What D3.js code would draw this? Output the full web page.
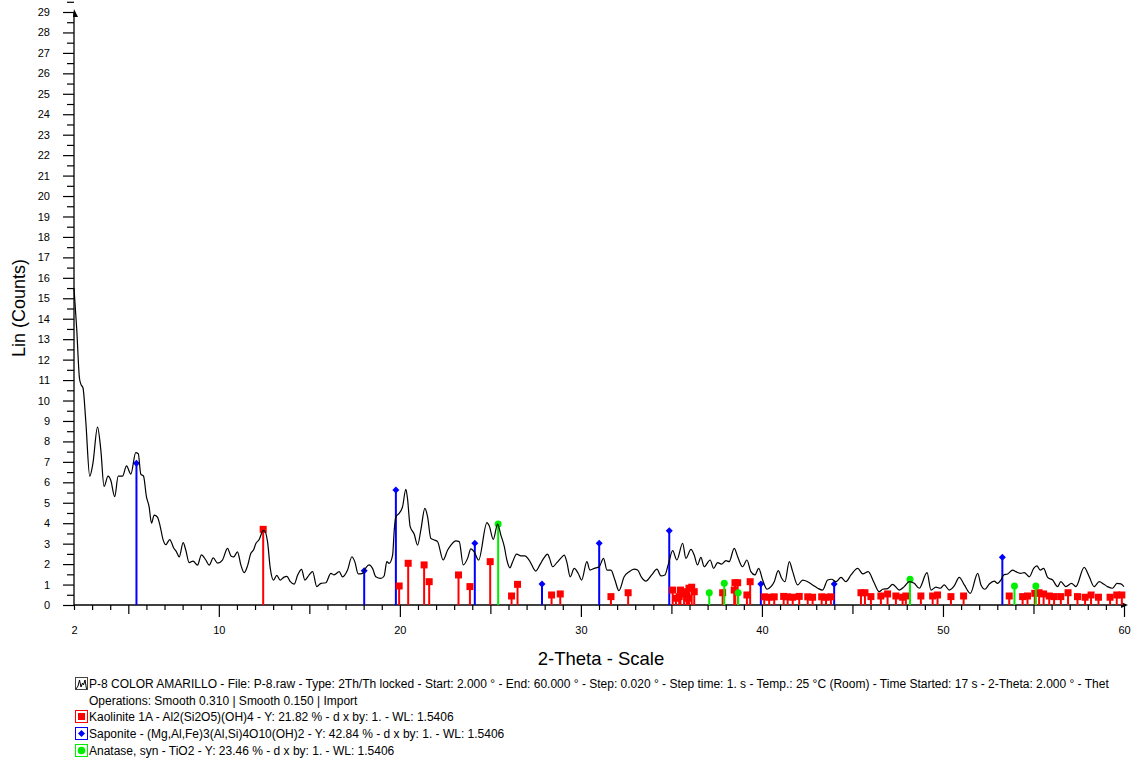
<!DOCTYPE html>
<html>
<head>
<meta charset="utf-8">
<script src="https://cdn.jsdelivr.net/npm/d3@7"></script>
<style>
  body { margin: 0; background: #fff; }
  text { font-family: "Liberation Sans", Arial, sans-serif; fill: #000; }
</style>
</head>
<body>
<script>
var twoTheta = [2.0, 2.15, 2.3, 2.38, 2.5, 2.65, 2.87, 3.04, 3.3, 3.48, 3.66, 3.88, 4.03, 4.25, 4.44, 4.68, 4.9, 5.14, 5.41, 5.55,
  5.69, 5.84, 6.0, 6.15, 6.28, 6.43, 6.61, 6.76, 6.92, 7.07, 7.29, 7.5, 7.66, 7.81, 8.03, 8.17, 8.36, 8.58, 8.82, 9.04,
  9.28, 9.47, 9.69, 9.93, 10.2, 10.48, 10.67, 10.82, 11.03, 11.22, 11.4, 11.58, 11.77, 11.92, 12.04, 12.23, 12.41, 12.5, 12.69, 12.84,
  13.02, 13.2, 13.39, 13.58, 13.76, 13.95, 14.16, 14.35, 14.57, 14.75, 14.99, 15.18, 15.41, 15.64, 15.91, 16.19, 16.37, 16.65, 16.83, 17.11,
  17.35, 17.51, 17.7, 17.94, 18.12, 18.3, 18.49, 18.67, 18.95, 19.13, 19.28, 19.41, 19.6, 19.69, 19.78, 19.96, 20.15, 20.33, 20.42, 20.57,
  20.79, 20.98, 21.16, 21.38, 21.53, 21.71, 21.9, 22.08, 22.39, 22.64, 22.82, 23.09, 23.28, 23.5, 23.74, 23.92, 24.11, 24.35, 24.81, 24.94,
  25.16, 25.4, 25.58, 25.77, 25.91, 26.08, 26.23, 26.45, 26.69, 26.91, 27.14, 27.51, 27.73, 27.94, 28.16, 28.27, 28.44, 28.67, 28.93, 29.08,
  29.23, 29.41, 29.63, 29.85, 30.04, 30.33, 30.5, 30.74, 31.01, 31.25, 31.44, 31.66, 31.88, 32.1, 32.39, 32.67, 32.94, 33.13, 33.35, 33.59,
  33.91, 34.2, 34.42, 34.64, 34.82, 35.07, 35.3, 35.62, 35.8, 36.08, 36.26, 36.44, 36.63, 36.81, 37.14, 37.33, 37.55, 37.77, 38.01, 38.19,
  38.47, 38.66, 38.93, 39.17, 39.39, 39.61, 39.82, 40.04, 40.28, 40.5, 40.68, 40.9, 41.09, 41.27, 41.51, 41.7, 41.97, 42.25, 42.52, 42.8,
  43.08, 43.35, 43.63, 43.85, 44.09, 44.37, 44.64, 44.92, 45.29, 45.57, 45.87, 46.17, 46.48, 46.67, 46.94, 47.22, 47.59, 47.86, 48.14, 48.41,
  48.69, 49.12, 49.34, 49.61, 49.85, 50.07, 50.35, 50.62, 50.9, 51.18, 51.51, 51.92, 52.1, 52.32, 52.56, 52.83, 53.02, 53.2, 53.35, 53.57,
  53.85, 54.03, 54.27, 54.49, 54.77, 55.01, 55.19, 55.37, 55.56, 55.78, 56.06, 56.33, 56.51, 56.79, 57.1, 57.34, 57.8, 58.08, 58.35, 58.63,
  58.87, 59.09, 59.37, 59.61, 59.83, 60.0];
var counts = [15.5, 13.5, 11.1, 10.8, 10.6, 9.0, 6.3, 6.9, 8.7, 7.6, 5.8, 6.3, 6.1, 5.3, 6.3, 6.3, 6.8, 6.4, 7.45, 7.4,
  6.4, 6.3, 5.3, 4.8, 4.0, 4.4, 4.3, 3.85, 3.2, 2.95, 3.2, 2.8, 2.6, 2.35, 3.05, 2.7, 2.07, 2.15, 1.95, 2.45,
  2.2, 1.95, 2.3, 2.05, 2.2, 2.77, 2.4, 2.35, 2.6, 1.95, 1.58, 1.9, 2.53, 2.7, 3.0, 3.2, 3.6, 3.65, 3.1, 1.8,
  1.22, 1.45, 1.22, 1.35, 1.4, 1.14, 1.02, 1.45, 1.74, 1.22, 1.47, 1.63, 0.9, 1.06, 1.09, 1.55, 1.47, 1.63, 1.38, 1.71,
  2.36, 2.12, 1.52, 1.55, 1.82, 1.96, 1.79, 1.38, 1.3, 1.42, 2.12, 2.04, 2.44, 3.67, 4.32, 4.48, 4.81, 5.66, 5.22, 3.83,
  3.47, 2.93, 3.67, 4.73, 4.32, 3.26, 3.18, 3.1, 2.2, 2.69, 2.93, 3.14, 3.1, 1.96, 2.28, 2.74, 2.6, 2.2, 4.03, 3.86,
  3.21, 3.96, 3.42, 2.85, 2.2, 1.82, 2.12, 2.49, 2.4, 2.4, 2.2, 1.66, 1.96, 2.28, 2.49, 2.28, 1.87, 2.07, 2.33, 2.44,
  2.07, 1.38, 1.79, 1.55, 1.22, 2.12, 1.71, 1.79, 1.87, 2.28, 1.71, 1.71, 1.22, 0.7, 1.38, 1.63, 1.75, 1.71, 1.35, 1.17,
  1.47, 1.75, 1.42, 1.47, 1.96, 2.66, 2.2, 3.02, 2.28, 2.72, 2.44, 1.96, 2.33, 1.87, 2.2, 1.79, 2.07, 2.0, 2.17, 2.12,
  2.77, 2.36, 1.87, 2.2, 1.63, 1.47, 1.79, 1.22, 0.77, 0.9, 1.14, 1.68, 1.31, 1.14, 2.12, 1.63, 0.98, 1.22, 1.14, 0.98,
  0.82, 0.73, 1.22, 1.26, 1.14, 1.35, 1.14, 1.47, 1.79, 1.52, 1.63, 1.14, 0.65, 0.77, 0.8, 1.01, 0.73, 0.9, 1.14, 1.06,
  0.82, 1.58, 0.73, 0.87, 0.82, 0.98, 0.73, 0.93, 1.35, 0.98, 0.57, 1.55, 0.98, 0.77, 1.03, 1.17, 1.06, 1.22, 1.47, 1.52,
  1.71, 1.63, 1.55, 1.58, 1.38, 1.79, 1.91, 1.71, 1.79, 1.35, 1.22, 0.9, 1.14, 0.9, 1.06, 0.9, 1.84, 1.38, 0.9, 1.14,
  1.03, 0.9, 0.82, 1.06, 1.03, 0.9];

// reference stick patterns
var kaoliniteAngles = [12.45, 19.96, 20.46, 21.34, 21.62, 23.24, 23.87, 24.99, 26.17, 26.5, 28.38, 28.86, 31.66, 32.61,
  35.07, 35.25, 35.43, 35.5, 35.7, 35.84, 35.9, 35.97, 36.12, 36.26, 37.83, 38.47, 38.51, 38.66, 39.17, 39.35,
  40.13, 40.4, 40.68, 41.2, 41.42, 41.7, 42.06, 42.53, 42.8, 43.3, 43.54, 43.81, 45.47, 45.69, 46.02, 46.57, 46.94,
  47.4, 47.77, 47.95, 48.78, 49.43, 49.7, 50.44, 51.14, 53.66, 54.4, 54.67, 55.07, 55.31, 55.56, 55.87, 56.14,
  56.51, 56.91, 57.43, 57.85, 58.18, 58.59, 59.23, 59.6, 59.88];
var kaoliniteHeights = [3.7, 0.93, 2.04, 1.96, 1.14, 1.47, 0.9, 2.12, 0.44, 1.01, 0.49, 0.54, 0.41, 0.6,
  0.73, 0.33, 0.41, 0.73, 0.54, 0.65, 0.33, 0.82, 0.87, 0.65, 0.6, 0.73, 1.09, 1.09, 0.49, 1.14,
  0.4, 0.38, 0.4, 0.42, 0.4, 0.38, 0.42, 0.4, 0.38, 0.4, 0.38, 0.4, 0.6, 0.6, 0.41, 0.44, 0.54,
  0.44, 0.38, 0.44, 0.44, 0.44, 0.49, 0.41, 0.44, 0.44, 0.41, 0.44, 0.57, 0.6, 0.54, 0.44, 0.41,
  0.41, 0.6, 0.41, 0.38, 0.49, 0.38, 0.38, 0.49, 0.49];
var saponiteAngles = [5.45, 18.03, 19.78, 24.14, 27.85, 31.01, 34.88, 39.94, 43.99, 53.28];
var saponiteHeights = [6.93, 1.68, 5.62, 3.02, 1.03, 3.02, 3.63, 1.03, 1.03, 2.33];
var anataseAngles = [25.43, 37.09, 37.92, 38.69, 48.18, 53.95, 55.13];
var anataseHeights = [3.96, 0.6, 1.06, 0.6, 1.26, 0.93, 0.93];

var xLabelTicks = [2, 10, 20, 30, 40, 50, 60];
var yLabelTicks = d3.range(0, 30);

var legendLines = [
  "P-8 COLOR AMARILLO - File: P-8.raw - Type: 2Th/Th locked - Start: 2.000 \u00b0 - End: 60.000 \u00b0 - Step: 0.020 \u00b0 - Step time: 1. s - Temp.: 25 \u00b0C (Room) - Time Started: 17 s - 2-Theta: 2.000 \u00b0 - Thet",
  "Operations: Smooth 0.310 | Smooth 0.150 | Import",
  "Kaolinite 1A - Al2(Si2O5)(OH)4 - Y: 21.82 % - d x by: 1. - WL: 1.5406",
  "Saponite - (Mg,Al,Fe)3(Al,Si)4O10(OH)2 - Y: 42.84 % - d x by: 1. - WL: 1.5406",
  "Anatase, syn - TiO2 - Y: 23.46 % - d x by: 1. - WL: 1.5406"];

var red = "#ff0000", blue = "#0000ff", green = "#00ee00";

var svg = d3.select("body").append("svg")
            .attr("width", 1136)
            .attr("height", 762);

var x = d3.scaleLinear().domain([2, 60]).range([74, 1124]);
var y = d3.scaleLinear().domain([0, 29]).range([605, 12]);

// Y axis (labels + half-unit minor ticks)
var yAxis = svg.append("g")
               .attr("transform", "translate(" + x(2) + ",0)")
               .call(d3.axisLeft(y).tickValues(yLabelTicks).tickSize(11).tickPadding(13).tickFormat(d3.format("d")));
svg.append("g")
   .attr("transform", "translate(" + x(2) + ",0)")
   .call(d3.axisLeft(y).tickValues(yLabelTicks.map(d => d + 0.5)).tickSize(7).tickFormat(""))
   .select(".domain").remove();
yAxis.select(".domain").attr("d", "M0," + y(0) + "V" + y(29)).attr("stroke-width", 1.3);
svg.selectAll(".tick text").attr("font-size", 11).attr("font-family", "Liberation Sans, Arial, sans-serif");
svg.selectAll(".tick line").attr("stroke", "#000").attr("stroke-width", 1.2);

// X axis: tick every degree, longer at 5 and 10
var xAxis = svg.append("g")
               .attr("transform", "translate(0," + y(0) + ")")
               .call(d3.axisBottom(x).tickValues(d3.range(2, 61)).tickSize(5)
                       .tickFormat(d => xLabelTicks.indexOf(d) >= 0 ? d : ""));
xAxis.selectAll(".tick line")
     .attr("stroke", "#000").attr("stroke-width", 1.2)
     .attr("y2", d => d % 10 == 0 ? 12 : (d % 5 == 0 ? 9 : 5));
xAxis.selectAll(".tick text").attr("y", 21).attr("font-size", 11);
xAxis.select(".domain").attr("d", "M" + x(2) + ",0H" + x(60)).attr("stroke-width", 1.3);

// arrow heads
svg.append("path").attr("d", "M" + x(2) + "," + (y(29) - 3) + "L" + (x(2) + 4) + "," + (y(29) + 5) + "L" + (x(2) - 1) + "," + (y(29) + 5) + "Z");
svg.append("path").attr("d", "M" + (x(60) + 4) + "," + y(0) + "L" + (x(60) - 3) + "," + (y(0) - 3) + "L" + (x(60) - 3) + "," + (y(0) + 3) + "Z");

// axis titles
svg.append("text")
   .attr("transform", "translate(25,308)rotate(-90)")
   .attr("text-anchor", "middle")
   .attr("font-size", 18)
   .text("Lin (Counts)");
svg.append("text")
   .attr("x", 601).attr("y", 665)
   .attr("text-anchor", "middle")
   .attr("font-size", 18.5)
   .text("2-Theta - Scale");

// sticks
function drawSticks(angles, heights, colour, shape) {
  var g = svg.append("g");
  var pts = angles.map((a, i) => ({a: a, h: heights[i]}));
  g.selectAll("line").data(pts).enter().append("line")
   .attr("x1", d => x(d.a)).attr("x2", d => x(d.a))
   .attr("y1", y(0)).attr("y2", d => y(d.h))
   .attr("stroke", colour).attr("stroke-width", 2);
  var marks = g.selectAll(".mk").data(pts).enter();
  if (shape == "square") {
    marks.append("rect").attr("class", "mk")
         .attr("x", d => x(d.a) - 3.5).attr("y", d => y(d.h) - 3.5)
         .attr("width", 7).attr("height", 7).attr("fill", colour);
  } else if (shape == "diamond") {
    marks.append("path").attr("class", "mk")
         .attr("d", d => "M" + x(d.a) + "," + (y(d.h) - 3.5) + "l3.5,3.5l-3.5,3.5l-3.5,-3.5Z")
         .attr("fill", colour);
  } else {
    marks.append("circle").attr("class", "mk")
         .attr("cx", d => x(d.a)).attr("cy", d => y(d.h)).attr("r", 3.5)
         .attr("fill", colour);
  }
}
drawSticks(saponiteAngles, saponiteHeights, blue, "diamond");
drawSticks(kaoliniteAngles, kaoliniteHeights, red, "square");
drawSticks(anataseAngles, anataseHeights, green, "circle");

// pattern line
var line = d3.line()
             .x((d, i) => x(twoTheta[i]))
             .y(d => y(d))
             .curve(d3.curveMonotoneX);
svg.append("path")
   .datum(counts)
   .attr("fill", "none")
   .attr("stroke", "#000")
   .attr("stroke-width", 1.2)
   .attr("d", line);

// legend
var legY = [684, 701, 717, 734, 751];
svg.append("g").selectAll("text").data(legendLines).enter().append("text")
   .attr("x", 89).attr("y", (d, i) => legY[i] + 4)
   .attr("font-size", 12)
   .text(d => d);

// legend icons
var icon = svg.append("g");
icon.append("rect").attr("x", 75.5).attr("y", legY[0] - 6.5).attr("width", 12).attr("height", 12)
    .attr("fill", "none").attr("stroke", "#444");
icon.append("path")
    .attr("d", "M76," + (legY[0] + 5) + "l2,-3l1.5,-6l1.5,7l1.5,-4l1,2l1.5,-5l1.5,9")
    .attr("fill", "none").attr("stroke", "#000").attr("stroke-width", 1);
[[red, "square"], [blue, "diamond"], [green, "circle"]].forEach(function (s, i) {
  var cy = legY[i + 2];
  icon.append("rect").attr("x", 75.5).attr("y", cy - 6.5).attr("width", 12).attr("height", 12)
      .attr("fill", "none").attr("stroke", s[0]).attr("stroke-width", 1);
  if (s[1] == "square") icon.append("rect").attr("x", 78).attr("y", cy - 4).attr("width", 7).attr("height", 7).attr("fill", s[0]);
  else if (s[1] == "diamond") icon.append("path").attr("d", "M81.5," + (cy - 4) + "l3.5,3.5l-3.5,3.5l-3.5,-3.5Z").attr("fill", s[0]);
  else icon.append("circle").attr("cx", 81.5).attr("cy", cy - 0.5).attr("r", 3.8).attr("fill", s[0]);
});
</script>
</body>
</html>
